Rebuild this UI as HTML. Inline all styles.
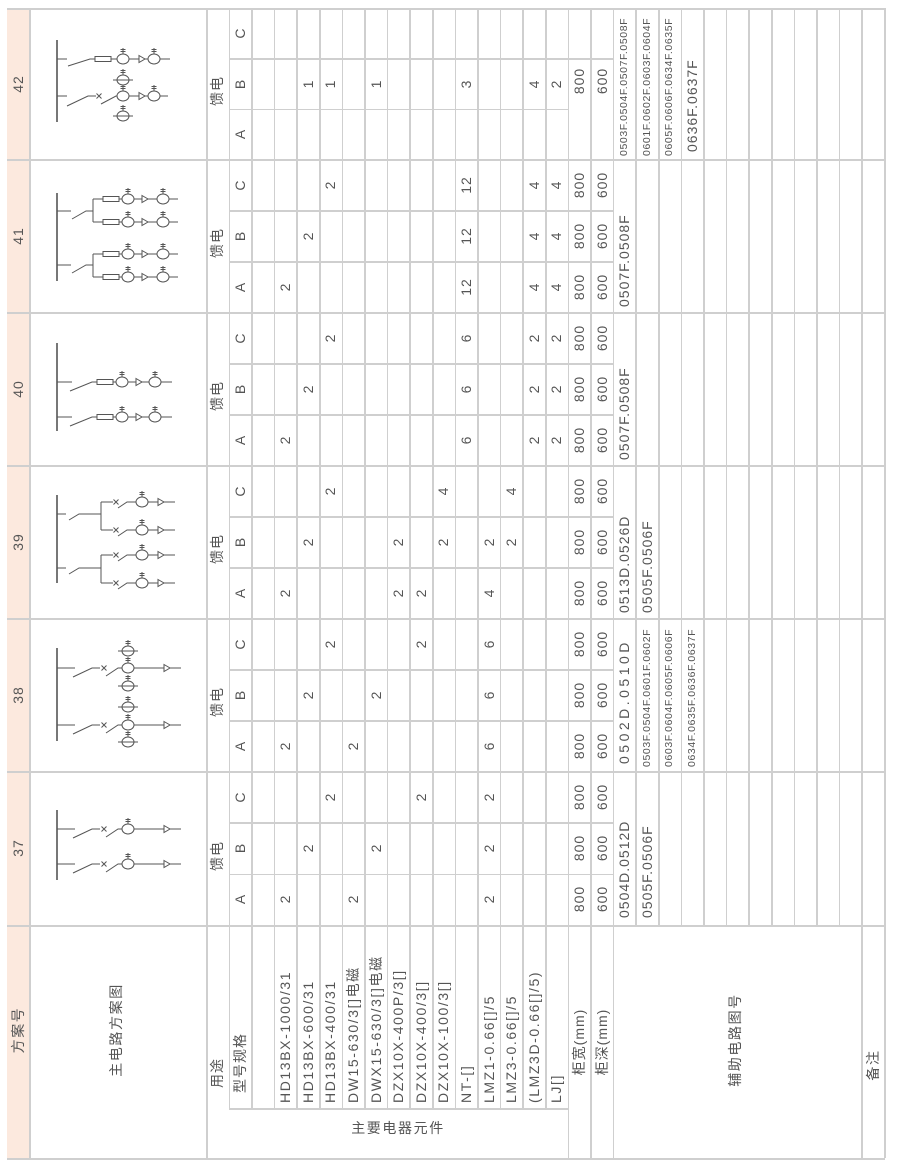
<!DOCTYPE html>
<html><head><meta charset="utf-8">
<style>
html,body{margin:0;padding:0;background:#fff;}
#p{position:relative;width:900px;height:1169px;overflow:hidden;background:#fff;}
.v{position:absolute;width:1.5px;background:#cfcfcf}
.h{position:absolute;height:1.5px;background:#cfcfcf}
.t{position:absolute;white-space:nowrap;font-family:"Liberation Sans","Noto Sans CJK SC",sans-serif;font-size:14px;color:#555;line-height:1;letter-spacing:1px}
.c{transform:translate(-50%,-50%) rotate(-90deg)}
.b{transform-origin:0 0;transform:rotate(-90deg) translate(0,-50%)}
.s{font-size:10.5px;letter-spacing:0.6px}
.l{letter-spacing:1.6px}
</style></head><body><div id="p">
<div style="position:absolute;left:7px;top:8px;width:22px;height:1150px;background:#fce9de"></div>

<div class="v" style="left:29px;top:8px;height:1150px"></div>
<div class="v" style="left:206px;top:8px;height:1150px"></div>
<div class="v" style="left:228.6px;top:8px;height:1100px"></div>
<div class="v" style="left:251.2px;top:8px;height:1100px"></div>
<div class="v" style="left:273.8px;top:8px;height:1100px"></div>
<div class="v" style="left:296.4px;top:8px;height:1100px"></div>
<div class="v" style="left:319px;top:8px;height:1100px"></div>
<div class="v" style="left:341.6px;top:8px;height:1100px"></div>
<div class="v" style="left:364.2px;top:8px;height:1100px"></div>
<div class="v" style="left:386.8px;top:8px;height:1100px"></div>
<div class="v" style="left:409.4px;top:8px;height:1100px"></div>
<div class="v" style="left:432px;top:8px;height:1100px"></div>
<div class="v" style="left:454.6px;top:8px;height:1100px"></div>
<div class="v" style="left:477.2px;top:8px;height:1100px"></div>
<div class="v" style="left:499.8px;top:8px;height:1100px"></div>
<div class="v" style="left:522.4px;top:8px;height:1100px"></div>
<div class="v" style="left:545px;top:8px;height:1100px"></div>
<div class="v" style="left:567.6px;top:8px;height:1150px"></div>
<div class="v" style="left:590.2px;top:8px;height:1150px"></div>
<div class="v" style="left:612.8px;top:8px;height:1150px"></div>
<div class="v" style="left:635.4px;top:8px;height:917px"></div>
<div class="v" style="left:658px;top:8px;height:917px"></div>
<div class="v" style="left:680.6px;top:8px;height:917px"></div>
<div class="v" style="left:703.2px;top:8px;height:917px"></div>
<div class="v" style="left:725.8px;top:8px;height:917px"></div>
<div class="v" style="left:748.4px;top:8px;height:917px"></div>
<div class="v" style="left:771px;top:8px;height:917px"></div>
<div class="v" style="left:793.6px;top:8px;height:917px"></div>
<div class="v" style="left:816.2px;top:8px;height:917px"></div>
<div class="v" style="left:838.8px;top:8px;height:917px"></div>
<div class="v" style="left:861.4px;top:8px;height:1150px"></div>
<div class="v" style="left:884px;top:8px;height:1150px"></div>

<div class="h" style="left:7px;top:8px;width:878px"></div>
<div class="h" style="left:7px;top:1158px;width:878px"></div>
<div class="h" style="left:7px;top:159px;width:878px"></div>
<div class="h" style="left:7px;top:312px;width:878px"></div>
<div class="h" style="left:7px;top:465px;width:878px"></div>
<div class="h" style="left:7px;top:618px;width:878px"></div>
<div class="h" style="left:7px;top:771px;width:878px"></div>
<div class="h" style="left:7px;top:925px;width:878px"></div>
<div class="h" style="left:229px;top:58.3px;width:384px"></div>
<div class="h" style="left:229px;top:108.7px;width:339px"></div>
<div class="h" style="left:229px;top:210px;width:384px"></div>
<div class="h" style="left:229px;top:261px;width:384px"></div>
<div class="h" style="left:229px;top:363px;width:384px"></div>
<div class="h" style="left:229px;top:414px;width:384px"></div>
<div class="h" style="left:229px;top:516px;width:384px"></div>
<div class="h" style="left:229px;top:567px;width:384px"></div>
<div class="h" style="left:229px;top:669px;width:384px"></div>
<div class="h" style="left:229px;top:720px;width:384px"></div>
<div class="h" style="left:229px;top:822.3px;width:384px"></div>
<div class="h" style="left:229px;top:873.7px;width:384px"></div>
<div class="h" style="left:229px;top:1108px;width:339px"></div>

<svg style="position:absolute;left:0;top:0" width="900" height="1169" viewBox="0 0 900 1169">
<defs>
<g id="ct" fill="none" stroke="#555" stroke-width="1"><ellipse cx="0" cy="0" rx="6" ry="5"/><path d="M0 -5V-11M-2.5 -9.5H2.5M-2.5 -7.5H2.5"/></g>
<g id="cte" fill="none" stroke="#555" stroke-width="1"><ellipse cx="0" cy="0" rx="6" ry="5"/><path d="M0 -5V-11M-2.5 -9.5H2.5M-2.5 -7.5H2.5M-10 0H10"/></g>
<path id="tri" d="M0 -3.5L6 0L0 3.5Z" fill="none" stroke="#555" stroke-width="1"/>
<rect id="fuse" x="0" y="-2.5" width="16" height="5" fill="none" stroke="#555" stroke-width="1"/>
<path id="xm" d="M-2.5 -2.5L2.5 2.5M-2.5 2.5L2.5 -2.5" stroke="#555" stroke-width="1"/>
</defs>
<g fill="none" stroke="#555" stroke-width="1">
<path d="M57 40V122" stroke-width="1.6"/>
<path d="M57 59H67M68 66L90 59H95M111 59H117M129 59H139M145 59H148M160 59H170"/>
<path d="M57 96H67M67 106L88 96H96M101 104L116 96H117M129 96H139M145 96H148M160 96H168"/>
<path d="M57 193V281" stroke-width="1.6"/>
<path d="M57 211H71M72 219L86 211H93M93 199V222M57 265H71M72 273L86 265H93M93 254V277"/>
<path d="M93 199H103M119 199H122M134 199H142M148 199H157M169 199H178"/>
<path d="M93 222H103M119 222H122M134 222H142M148 222H157M169 222H178"/>
<path d="M93 254H103M119 254H122M134 254H142M148 254H157M169 254H178"/>
<path d="M93 277H103M119 277H122M134 277H142M148 277H157M169 277H178"/>
<path d="M57 343V431" stroke-width="1.6"/>
<path d="M57 382H72M70 391L92 382H97M113 382H116M128 382H136M142 382H149M161 382H172"/>
<path d="M57 417H72M70 426L92 417H97M113 417H116M128 417H136M142 417H149M161 417H172"/>
<path d="M57 495V583" stroke-width="1.6"/>
<path d="M57 514H66M69 520L79 514H101M101 502V530M57 568H66M69 574L79 568H101M101 555V583"/>
<path d="M101 502H113M118 508L127 502H136M148 502H158M164 502H175"/>
<path d="M101 530H113M118 536L127 530H136M148 530H158M164 530H175"/>
<path d="M101 555H113M118 561L127 555H136M148 555H158M164 555H175"/>
<path d="M101 583H113M118 589L127 583H136M148 583H158M164 583H175"/>
<path d="M57 648V741" stroke-width="1.6"/>
<path d="M57 668H75M73 677L92 668H100M106 676L118 668H122M134 668H164M170 668H181"/>
<path d="M57 725H75M73 734L92 725H100M106 733L118 725H122M134 725H164M170 725H181"/>
<path d="M57 810V880" stroke-width="1.6"/>
<path d="M57 829H75M73 838L92 829H100M106 837L118 829H122M134 829H164M170 829H181"/>
<path d="M57 864H75M73 873L92 864H100M106 872L118 864H122M134 864H164M170 864H181"/>
</g>
<use href="#fuse" x="95" y="59"/><use href="#ct" x="123" y="59"/><use href="#tri" x="139" y="59"/><use href="#ct" x="154" y="59"/>
<use href="#xm" x="99" y="96"/><use href="#ct" x="123" y="96"/><use href="#tri" x="139" y="96"/><use href="#ct" x="154" y="96"/>
<use href="#cte" x="123" y="80"/><use href="#cte" x="123" y="116"/>
<use href="#fuse" x="103" y="199"/><use href="#ct" x="128" y="199"/><use href="#tri" x="142" y="199"/><use href="#ct" x="163" y="199"/>
<use href="#fuse" x="103" y="222"/><use href="#ct" x="128" y="222"/><use href="#tri" x="142" y="222"/><use href="#ct" x="163" y="222"/>
<use href="#fuse" x="103" y="254"/><use href="#ct" x="128" y="254"/><use href="#tri" x="142" y="254"/><use href="#ct" x="163" y="254"/>
<use href="#fuse" x="103" y="277"/><use href="#ct" x="128" y="277"/><use href="#tri" x="142" y="277"/><use href="#ct" x="163" y="277"/>
<use href="#fuse" x="97" y="382"/><use href="#ct" x="122" y="382"/><use href="#tri" x="136" y="382"/><use href="#ct" x="155" y="382"/>
<use href="#fuse" x="97" y="417"/><use href="#ct" x="122" y="417"/><use href="#tri" x="136" y="417"/><use href="#ct" x="155" y="417"/>
<use href="#xm" x="116" y="502"/><use href="#ct" x="142" y="502"/><use href="#tri" x="158" y="502"/>
<use href="#xm" x="116" y="530"/><use href="#ct" x="142" y="530"/><use href="#tri" x="158" y="530"/>
<use href="#xm" x="116" y="555"/><use href="#ct" x="142" y="555"/><use href="#tri" x="158" y="555"/>
<use href="#xm" x="116" y="583"/><use href="#ct" x="142" y="583"/><use href="#tri" x="158" y="583"/>
<use href="#xm" x="104" y="668"/><use href="#ct" x="128" y="668"/><use href="#tri" x="164" y="668"/>
<use href="#xm" x="104" y="725"/><use href="#ct" x="128" y="725"/><use href="#tri" x="164" y="725"/>
<use href="#cte" x="128" y="651"/><use href="#cte" x="128" y="686"/><use href="#cte" x="128" y="707"/><use href="#cte" x="128" y="742"/>
<use href="#xm" x="104" y="829"/><use href="#ct" x="128" y="829"/><use href="#tri" x="164" y="829"/>
<use href="#xm" x="104" y="864"/><use href="#ct" x="128" y="864"/><use href="#tri" x="164" y="864"/>
</svg>

<div class="t c" style="left:18px;top:83.5px">42</div>
<div class="t c" style="left:18px;top:235.5px">41</div>
<div class="t c" style="left:18px;top:388.5px">40</div>
<div class="t c" style="left:18px;top:541.5px">39</div>
<div class="t c" style="left:18px;top:694.5px">38</div>
<div class="t c" style="left:18px;top:848px">37</div>
<div class="t c l" style="left:18px;top:1030px">方案号</div>

<div class="t c l" style="left:116px;top:1030px">主电路方案图</div>
<div class="t c" style="left:217.3px;top:1073px">用途</div>
<div class="t c" style="left:239.9px;top:1063px">型号规格</div>
<div class="t b l" style="left:285.1px;top:1103px">HD13BX-1000/31</div>
<div class="t b l" style="left:307.7px;top:1103px">HD13BX-600/31</div>
<div class="t b l" style="left:330.3px;top:1103px">HD13BX-400/31</div>
<div class="t b l" style="left:352.9px;top:1103px">DW15-630/3[]电磁</div>
<div class="t b l" style="left:375.5px;top:1103px">DWX15-630/3[]电磁</div>
<div class="t b l" style="left:398.1px;top:1103px">DZX10X-400P/3[]</div>
<div class="t b l" style="left:420.7px;top:1103px">DZX10X-400/3[]</div>
<div class="t b l" style="left:443.3px;top:1103px">DZX10X-100/3[]</div>
<div class="t b l" style="left:465.9px;top:1103px">NT-[]</div>
<div class="t b l" style="left:488.5px;top:1103px">LMZ1-0.66[]/5</div>
<div class="t b l" style="left:511.1px;top:1103px">LMZ3-0.66[]/5</div>
<div class="t b l" style="left:533.7px;top:1103px">(LMZ3D-0.66[]/5)</div>
<div class="t b l" style="left:556.3px;top:1103px">LJ[]</div>
<div class="t l" style="left:398px;top:1128px;transform:translate(-50%,-50%)">主要电器元件</div>
<div class="t c" style="left:578.9px;top:1042px">柜宽(mm)</div>
<div class="t c" style="left:601.5px;top:1042px">柜深(mm)</div>
<div class="t c l" style="left:735px;top:1040px">辅助电路图号</div>
<div class="t c l" style="left:873px;top:1065px">备注</div>

<div class="t c" style="left:217.3px;top:91px">馈电</div>
<div class="t c" style="left:217.3px;top:243px">馈电</div>
<div class="t c" style="left:217.3px;top:396px">馈电</div>
<div class="t c" style="left:217.3px;top:549px">馈电</div>
<div class="t c" style="left:217.3px;top:702px">馈电</div>
<div class="t c" style="left:217.3px;top:856px">馈电</div>

<div class="t c" style="left:239.9px;top:133.8px">A</div><div class="t c" style="left:239.9px;top:83.5px">B</div><div class="t c" style="left:239.9px;top:33.2px">C</div>
<div class="t c" style="left:239.9px;top:286.5px">A</div><div class="t c" style="left:239.9px;top:235.5px">B</div><div class="t c" style="left:239.9px;top:184.5px">C</div>
<div class="t c" style="left:239.9px;top:439.5px">A</div><div class="t c" style="left:239.9px;top:388.5px">B</div><div class="t c" style="left:239.9px;top:337.5px">C</div>
<div class="t c" style="left:239.9px;top:592.5px">A</div><div class="t c" style="left:239.9px;top:541.5px">B</div><div class="t c" style="left:239.9px;top:490.5px">C</div>
<div class="t c" style="left:239.9px;top:745.5px">A</div><div class="t c" style="left:239.9px;top:694.5px">B</div><div class="t c" style="left:239.9px;top:643.5px">C</div>
<div class="t c" style="left:239.9px;top:899.3px">A</div><div class="t c" style="left:239.9px;top:848px">B</div><div class="t c" style="left:239.9px;top:796.7px">C</div>

<div class="t c" style="left:285.1px;top:899.3px">2</div>
<div class="t c" style="left:307.7px;top:848px">2</div>
<div class="t c" style="left:330.3px;top:796.7px">2</div>
<div class="t c" style="left:352.9px;top:899.3px">2</div>
<div class="t c" style="left:375.5px;top:848px">2</div>
<div class="t c" style="left:420.7px;top:796.7px">2</div>
<div class="t c" style="left:488.5px;top:899.3px">2</div><div class="t c" style="left:488.5px;top:848px">2</div><div class="t c" style="left:488.5px;top:796.7px">2</div>
<div class="t c" style="left:578.9px;top:899.3px">800</div><div class="t c" style="left:578.9px;top:848px">800</div><div class="t c" style="left:578.9px;top:796.7px">800</div>
<div class="t c" style="left:601.5px;top:899.3px">600</div><div class="t c" style="left:601.5px;top:848px">600</div><div class="t c" style="left:601.5px;top:796.7px">600</div>
<div class="t b" style="left:624.1px;top:918px">0504D.0512D</div>
<div class="t b" style="left:646.7px;top:918px">0505F.0506F</div>

<div class="t c" style="left:285.1px;top:745.5px">2</div>
<div class="t c" style="left:307.7px;top:694.5px">2</div>
<div class="t c" style="left:330.3px;top:643.5px">2</div>
<div class="t c" style="left:352.9px;top:745.5px">2</div>
<div class="t c" style="left:375.5px;top:694.5px">2</div>
<div class="t c" style="left:420.7px;top:643.5px">2</div>
<div class="t c" style="left:488.5px;top:745.5px">6</div><div class="t c" style="left:488.5px;top:694.5px">6</div><div class="t c" style="left:488.5px;top:643.5px">6</div>
<div class="t c" style="left:578.9px;top:745.5px">800</div><div class="t c" style="left:578.9px;top:694.5px">800</div><div class="t c" style="left:578.9px;top:643.5px">800</div>
<div class="t c" style="left:601.5px;top:745.5px">600</div><div class="t c" style="left:601.5px;top:694.5px">600</div><div class="t c" style="left:601.5px;top:643.5px">600</div>
<div class="t b" style="left:624.1px;top:764px;letter-spacing:3.5px">0502D.0510D</div>
<div class="t b s" style="left:646.7px;top:767px">0503F.0504F.0601F.0602F</div>
<div class="t b s" style="left:669.3px;top:767px">0603F.0604F.0605F.0606F</div>
<div class="t b s" style="left:691.9px;top:767px">0634F.0635F.0636F.0637F</div>

<div class="t c" style="left:285.1px;top:592.5px">2</div>
<div class="t c" style="left:307.7px;top:541.5px">2</div>
<div class="t c" style="left:330.3px;top:490.5px">2</div>
<div class="t c" style="left:398.1px;top:592.5px">2</div><div class="t c" style="left:398.1px;top:541.5px">2</div>
<div class="t c" style="left:420.7px;top:592.5px">2</div>
<div class="t c" style="left:443.3px;top:541.5px">2</div><div class="t c" style="left:443.3px;top:490.5px">4</div>
<div class="t c" style="left:488.5px;top:592.5px">4</div><div class="t c" style="left:488.5px;top:541.5px">2</div>
<div class="t c" style="left:511.1px;top:541.5px">2</div><div class="t c" style="left:511.1px;top:490.5px">4</div>
<div class="t c" style="left:578.9px;top:592.5px">800</div><div class="t c" style="left:578.9px;top:541.5px">800</div><div class="t c" style="left:578.9px;top:490.5px">800</div>
<div class="t c" style="left:601.5px;top:592.5px">600</div><div class="t c" style="left:601.5px;top:541.5px">600</div><div class="t c" style="left:601.5px;top:490.5px">600</div>
<div class="t b" style="left:624.1px;top:613px">0513D.0526D</div>
<div class="t b" style="left:646.7px;top:613px">0505F.0506F</div>

<div class="t c" style="left:285.1px;top:439.5px">2</div>
<div class="t c" style="left:307.7px;top:388.5px">2</div>
<div class="t c" style="left:330.3px;top:337.5px">2</div>
<div class="t c" style="left:465.9px;top:439.5px">6</div><div class="t c" style="left:465.9px;top:388.5px">6</div><div class="t c" style="left:465.9px;top:337.5px">6</div>
<div class="t c" style="left:533.7px;top:439.5px">2</div><div class="t c" style="left:533.7px;top:388.5px">2</div><div class="t c" style="left:533.7px;top:337.5px">2</div>
<div class="t c" style="left:556.3px;top:439.5px">2</div><div class="t c" style="left:556.3px;top:388.5px">2</div><div class="t c" style="left:556.3px;top:337.5px">2</div>
<div class="t c" style="left:578.9px;top:439.5px">800</div><div class="t c" style="left:578.9px;top:388.5px">800</div><div class="t c" style="left:578.9px;top:337.5px">800</div>
<div class="t c" style="left:601.5px;top:439.5px">600</div><div class="t c" style="left:601.5px;top:388.5px">600</div><div class="t c" style="left:601.5px;top:337.5px">600</div>
<div class="t b" style="left:624.1px;top:460px">0507F.0508F</div>

<div class="t c" style="left:285.1px;top:286.5px">2</div>
<div class="t c" style="left:307.7px;top:235.5px">2</div>
<div class="t c" style="left:330.3px;top:184.5px">2</div>
<div class="t c" style="left:465.9px;top:286.5px">12</div><div class="t c" style="left:465.9px;top:235.5px">12</div><div class="t c" style="left:465.9px;top:184.5px">12</div>
<div class="t c" style="left:533.7px;top:286.5px">4</div><div class="t c" style="left:533.7px;top:235.5px">4</div><div class="t c" style="left:533.7px;top:184.5px">4</div>
<div class="t c" style="left:556.3px;top:286.5px">4</div><div class="t c" style="left:556.3px;top:235.5px">4</div><div class="t c" style="left:556.3px;top:184.5px">4</div>
<div class="t c" style="left:578.9px;top:286.5px">800</div><div class="t c" style="left:578.9px;top:235.5px">800</div><div class="t c" style="left:578.9px;top:184.5px">800</div>
<div class="t c" style="left:601.5px;top:286.5px">600</div><div class="t c" style="left:601.5px;top:235.5px">600</div><div class="t c" style="left:601.5px;top:184.5px">600</div>
<div class="t b" style="left:624.1px;top:307px">0507F.0508F</div>

<div class="t c" style="left:307.7px;top:83.5px">1</div>
<div class="t c" style="left:330.3px;top:83.5px">1</div>
<div class="t c" style="left:375.5px;top:83.5px">1</div>
<div class="t c" style="left:465.9px;top:83.5px">3</div>
<div class="t c" style="left:533.7px;top:83.5px">4</div>
<div class="t c" style="left:556.3px;top:83.5px">2</div>
<div class="t c" style="left:578.9px;top:81px">800</div>
<div class="t c" style="left:601.5px;top:81px">600</div>
<div class="t b s" style="left:624.1px;top:156px">0503F.0504F.0507F.0508F</div>
<div class="t b s" style="left:646.7px;top:156px">0601F.0602F.0603F.0604F</div>
<div class="t b s" style="left:669.3px;top:156px">0605F.0606F.0634F.0635F</div>
<div class="t b" style="left:691.9px;top:152px">0636F.0637F</div>
</div></body></html>
